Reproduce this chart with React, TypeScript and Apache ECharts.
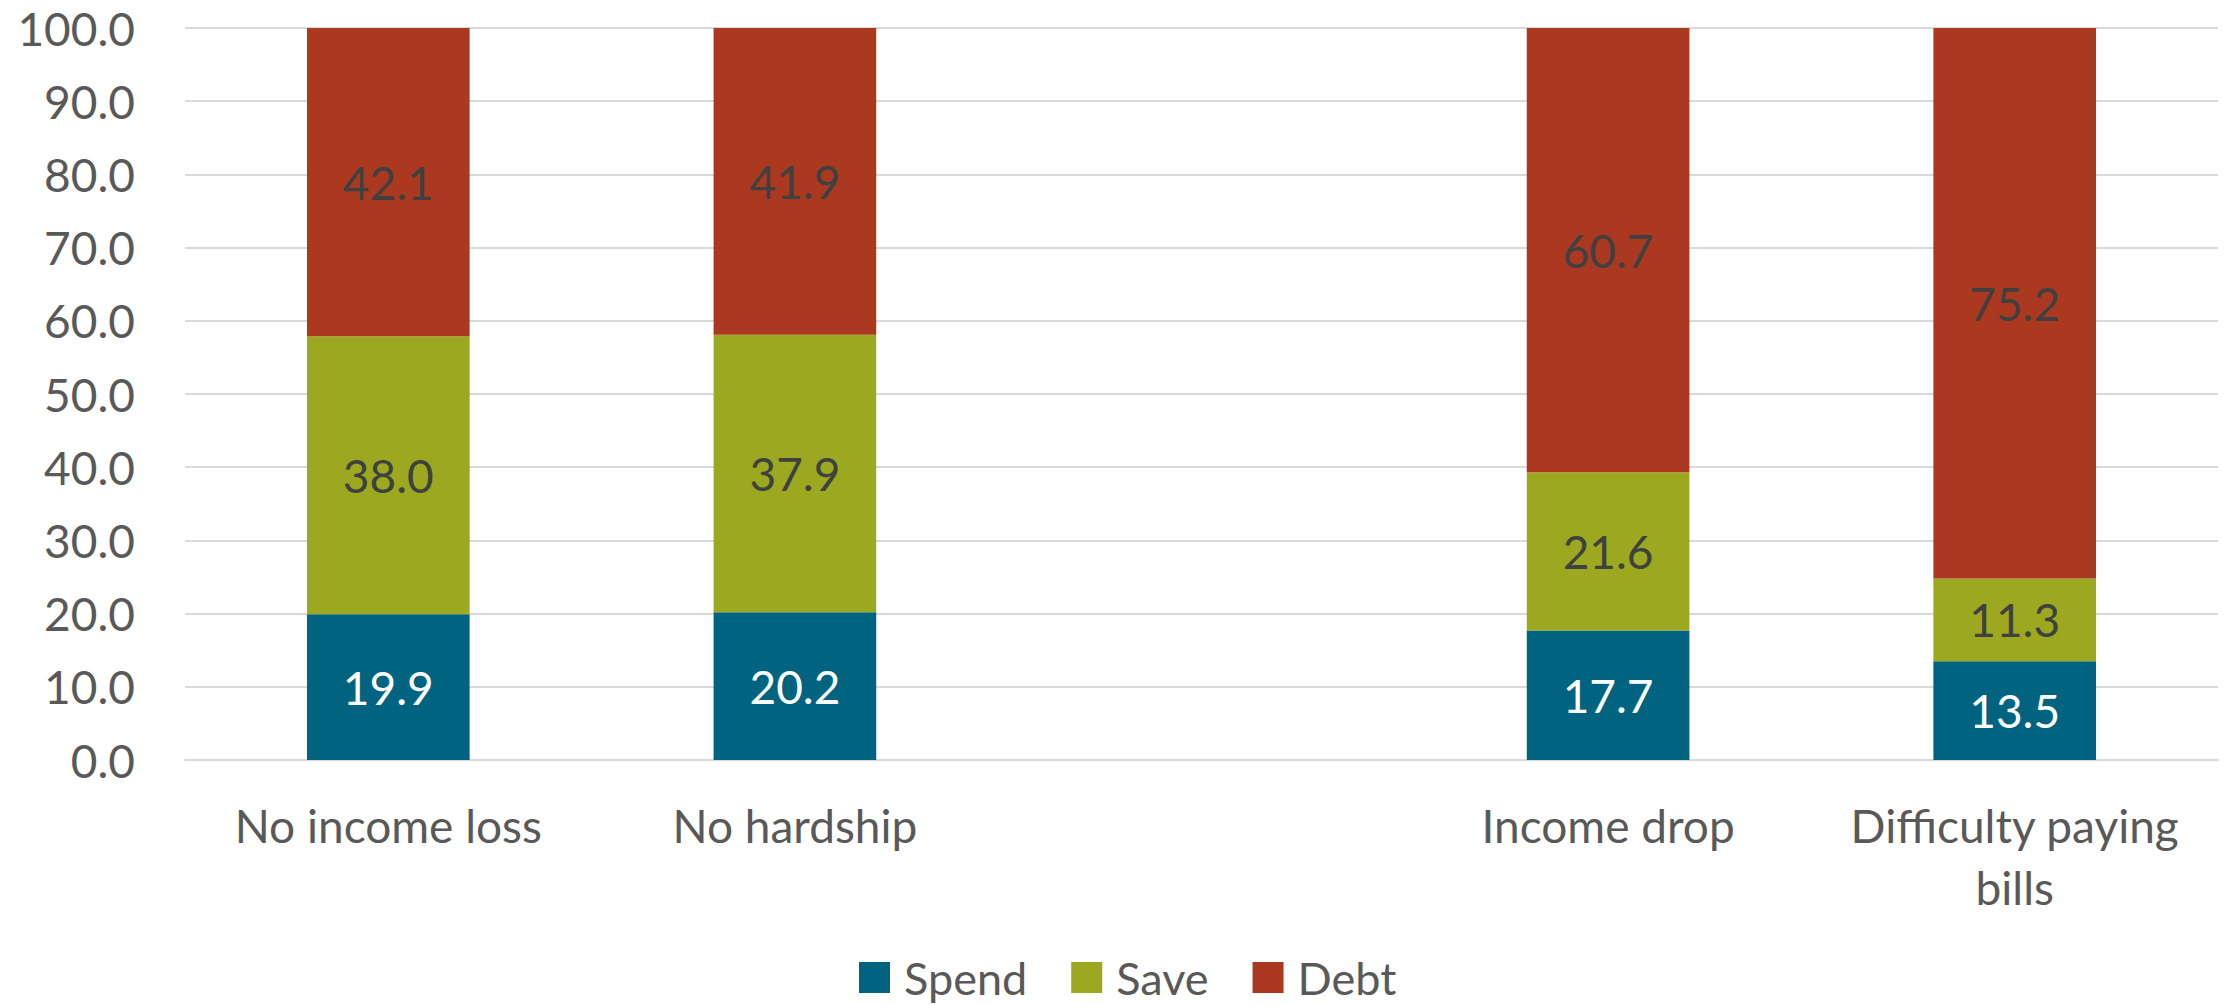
import React, { useEffect, useRef } from "react";
import * as echarts from "echarts";

const categories = ["No income loss", "No hardship", "", "Income drop", "Difficulty paying\nbills"];
const spend = [19.9, 20.2, null, 17.7, 13.5];
const save = [38.0, 37.9, null, 21.6, 11.3];
const debt = [42.1, 41.9, null, 60.7, 75.2];
const yTicks = { min: 0, max: 100, interval: 10 };

const FONT = "Lato, 'Open Sans', sans-serif";

export default function App() {
  const ref = useRef<HTMLDivElement>(null);
  useEffect(() => {
    if (!ref.current) return;
    const chart = echarts.init(ref.current, undefined, { renderer: "svg" });
    const fmt = (p: any) => (p.value == null ? "" : Number(p.value).toFixed(1));
    const mk = (name: string, data: any[], color: string, labelColor: string) => ({
      name,
      type: "bar",
      stack: "total",
      data,
      barWidth: "40%",
      itemStyle: { color },
      label: {
        show: true,
        position: "inside",
        formatter: fmt,
        color: labelColor,
        fontSize: 46,
        fontFamily: FONT,
      },
    });
    chart.setOption({
      animation: false,
      textStyle: { fontFamily: FONT },
      grid: { left: 185, right: 13, top: 28, bottom: 245, containLabel: false },
      legend: {
        left: 854,
        top: 950,
        itemWidth: 31,
        itemHeight: 31,
        itemGap: 44,
        icon: "rect",
        textStyle: {
          fontSize: 45,
          lineHeight: 45,
          color: "#595959",
          fontFamily: FONT,
          padding: [0, 0, 0, 9],
        },
        data: ["Spend", "Save", "Debt"],
      },
      xAxis: {
        type: "category",
        data: categories,
        axisTick: { show: false },
        axisLine: { lineStyle: { color: "#d9d9d9", width: 2 } },
        axisLabel: {
          interval: 0,
          margin: 34,
          fontSize: 46,
          lineHeight: 62,
          color: "#595959",
          fontFamily: FONT,
        },
      },
      yAxis: {
        type: "value",
        min: yTicks.min,
        max: yTicks.max,
        interval: yTicks.interval,
        axisLine: { show: false },
        axisTick: { show: false },
        splitLine: { lineStyle: { color: "#d9d9d9", width: 2 } },
        axisLabel: {
          formatter: (v: number) => v.toFixed(1),
          fontSize: 46,
          color: "#595959",
          margin: 50,
          fontFamily: FONT,
        },
      },
      series: [
        mk("Spend", spend, "#006481", "#ffffff"),
        mk("Save", save, "#9ca81f", "#404040"),
        mk("Debt", debt, "#aa3920", "#404040"),
      ],
    });
    return () => chart.dispose();
  }, []);
  return (
    <div
      ref={ref}
      style={{ position: "fixed", left: 0, top: 0, width: 2231, height: 1005, background: "#fff" }}
    />
  );
}
